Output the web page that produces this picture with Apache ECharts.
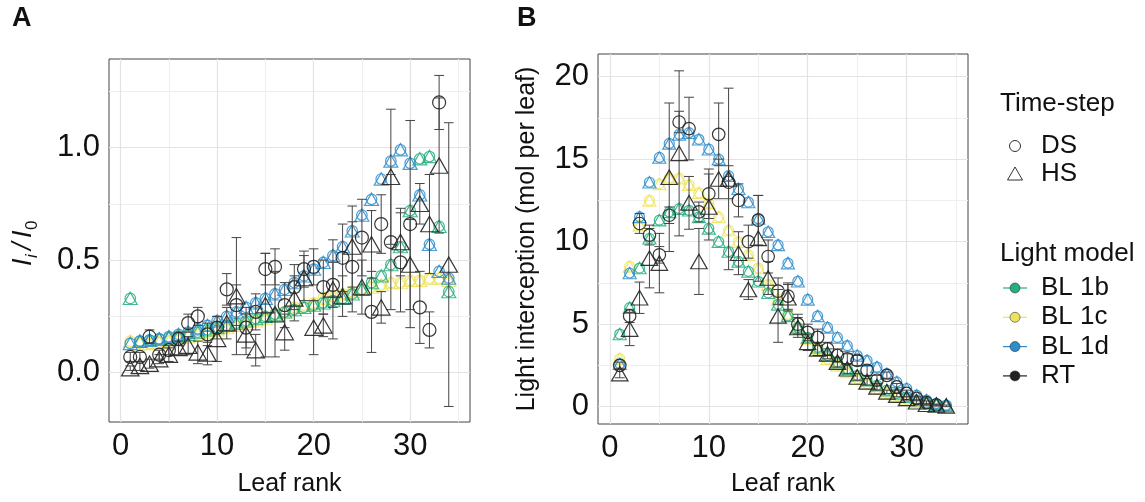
<!DOCTYPE html>
<html><head><meta charset="utf-8">
<script src="https://cdn.jsdelivr.net/npm/echarts@6/dist/echarts.min.js"></script>
<style>html,body{margin:0;padding:0;background:#fff}#c{width:1145px;height:502px}</style>
</head><body><div id="c"></div>
<script>
// ---------- data ----------
const leafRank = [1,2,3,4,5,6,7,8,9,10,11,12,13,14,15,16,17,18,19,20,21,22,23,24,25,26,27,28,29,30,31,32,33,34];
const xTicks = [0,10,20,30];
const xMinor = [5,15,25,35];
const yTicksA = [0,0.5,1.0];
const yMinorA = [0.25,0.75,1.25];
const yTicksB = [0,5,10,15,20];
const yMinorB = [2.5,7.5,12.5,17.5];

// Panel A : I_i / I_0
const a_BL1b = [0.33,0.14,0.145,0.15,0.155,0.16,0.17,0.18,0.19,0.2,0.21,0.22,0.23,0.24,0.25,0.26,0.27,0.28,0.29,0.3,0.31,0.32,0.33,0.35,0.37,0.4,0.43,0.48,0.56,0.72,0.95,0.96,0.65,0.36];
const a_BL1c = [0.14,0.13,0.13,0.135,0.14,0.15,0.16,0.17,0.18,0.19,0.2,0.21,0.22,0.23,0.24,0.26,0.27,0.29,0.3,0.31,0.33,0.34,0.35,0.36,0.37,0.38,0.39,0.4,0.4,0.41,0.41,0.42,0.42,0.41];
const a_BL1d = [0.13,0.14,0.145,0.15,0.16,0.17,0.18,0.195,0.21,0.23,0.25,0.27,0.29,0.31,0.33,0.35,0.37,0.4,0.43,0.46,0.49,0.52,0.56,0.63,0.7,0.77,0.86,0.94,0.99,0.93,0.79,0.57,0.45,0.42];
const a_RT_DS = [0.07,0.07,0.16,0.08,0.1,0.15,0.22,0.25,0.17,0.2,0.37,0.3,0.2,0.27,0.46,0.47,0.3,0.38,0.46,0.47,0.38,0.39,0.51,0.47,0.6,0.27,0.66,0.58,0.49,0.66,0.29,0.19,1.2,null];
const a_RT_DS_sd = [0.02,0.02,0.03,0.02,0.02,0.03,0.04,0.04,0.05,0.05,0.07,0.09,0.09,0.08,0.07,0.08,0.1,0.1,0.08,0.08,0.12,0.1,0.15,0.2,0.17,0.18,0.13,0.3,0.22,0.46,0.16,0.08,0.12,null];
const a_RT_HS = [0.02,0.03,0.04,0.06,0.08,0.11,0.12,0.09,0.085,0.15,0.22,0.34,0.17,0.1,0.3,0.26,0.18,0.33,0.42,0.2,0.21,0.37,0.34,0.56,0.38,0.57,0.29,0.87,0.58,0.48,0.75,0.66,0.92,0.48];
const a_RT_HS_sd = [0.01,0.02,0.02,0.02,0.03,0.03,0.04,0.05,0.05,0.1,0.07,0.26,0.09,0.07,0.23,0.19,0.08,0.1,0.1,0.12,0.05,0.22,0.09,0.18,0.12,0.15,0.07,0.3,0.15,0.2,0.09,0.22,0.3,0.63];

// Panel B : light interception (mol per leaf)
const b_BL1b = [4.4,6.0,8.4,10.2,11.3,11.8,12.0,11.9,11.5,10.8,10.0,9.4,8.8,8.2,7.6,6.9,6.2,5.5,4.8,4.2,3.6,3.1,2.7,2.3,1.9,1.6,1.3,1.0,0.8,0.6,0.4,0.25,0.12,0.05];
const b_BL1c = [2.9,8.5,11.0,12.5,13.5,13.85,13.85,13.45,12.95,12.35,11.5,10.7,10.0,9.2,8.4,7.4,6.5,5.6,4.8,4.1,3.5,2.9,2.5,2.1,1.7,1.4,1.1,0.85,0.65,0.45,0.3,0.18,0.08,0.03];
const b_BL1d = [2.6,8.1,11.5,13.6,15.1,15.95,16.5,16.6,16.2,15.6,15.0,14.0,13.2,12.4,11.4,10.6,9.8,8.7,7.6,6.5,5.5,4.8,4.2,3.7,3.1,2.8,2.4,2.0,1.5,1.1,0.7,0.4,0.2,0.1];
const b_RT_DS = [2.5,5.5,11.1,10.4,9.2,11.6,17.25,16.85,11.8,12.9,16.5,13.6,12.5,10.0,11.3,9.1,7.0,6.7,5.0,4.5,4.2,3.5,3.1,2.9,2.8,2.2,1.6,1.9,1.2,0.8,0.5,0.25,0.1,null];
const b_RT_DS_sd = [0.2,0.4,0.6,0.6,0.5,0.5,0.65,1.9,0.6,1.5,1.9,1.0,1.0,1.0,1.5,1.0,0.8,0.8,0.6,0.5,0.5,0.4,0.4,0.3,0.3,0.3,0.3,0.2,0.2,0.2,0.1,0.1,0.05,null];
const b_RT_HS = [2.0,4.7,6.6,9.0,8.7,13.9,15.35,12.35,8.8,12.1,13.8,13.8,9.3,7.1,10.2,7.8,5.5,6.6,4.8,3.9,3.5,3.2,2.7,2.3,1.8,1.5,1.2,0.9,0.7,0.5,0.3,0.15,0.1,0.05];
const b_RT_HS_sd = [0.25,1.0,0.95,1.8,1.8,4.5,5.0,1.6,2.0,2.0,1.2,5.5,1.3,0.6,2.6,1.0,1.6,0.8,0.6,0.5,0.4,0.3,0.3,0.3,0.2,0.2,0.2,0.1,0.1,0.1,0.1,0.05,0.05,0.05];

const modelNames = ['BL 1b','BL 1c','BL 1d','RT'];
const timeStepNames = ['DS','HS'];

// ---------- styling ----------
const FONT = '"Liberation Sans", Arial, sans-serif';
const COL = {'BL 1b':'#26AD81','BL 1c':'#EDE35A','BL 1d':'#2E8DCB','RT':'#222222'};
const GRID_MAJ = '#E3E3E3', GRID_MIN = '#EFEFEF';
const SIZES = [{mTri:14, mCir:10.5, rTri:17.5, rCir:13}, {mTri:13, mCir:10, rTri:16.5, rCir:12.5}];

function pts(vals){ return leafRank.map((r,i)=> vals[i]==null ? null : [r, vals[i]]).filter(Boolean); }
function bars(vals, sd){ return leafRank.map((r,i)=> vals[i]==null ? null : [r, vals[i]-sd[i], vals[i]+sd[i]]).filter(Boolean); }

function scatter(g, name, vals, symbol, size, color, z, op){
  return {type:'scatter', name, xAxisIndex:g, yAxisIndex:g, data:pts(vals), symbol,
    symbolSize: symbol==='triangle' ? [size, size*0.88] : size,
    itemStyle:{color:'rgba(0,0,0,0)', borderColor:color, borderWidth:1.2, opacity:op},
    z, silent:true, animation:false};
}
function errSeries(g, vals, sd){
  return {type:'custom', xAxisIndex:g, yAxisIndex:g, data:bars(vals, sd), z:3, silent:true, animation:false,
    encode:{x:0, y:[1,2]},
    renderItem(params, api){
      const x = api.value(0);
      const p1 = api.coord([x, api.value(1)]);
      const p2 = api.coord([x, api.value(2)]);
      const hw = api.size([0.5, 0])[0];
      const style = {stroke:'#444', lineWidth:1, fill:null};
      return {type:'group', children:[
        {type:'line', shape:{x1:p1[0], y1:p1[1], x2:p2[0], y2:p2[1]}, style},
        {type:'line', shape:{x1:p1[0]-hw, y1:p1[1], x2:p1[0]+hw, y2:p1[1]}, style},
        {type:'line', shape:{x1:p2[0]-hw, y1:p2[1], x2:p2[0]+hw, y2:p2[1]}, style}
      ]};
    }};
}
function gridLines(g, xMaj, xMin, yMaj, yMin){
  const mk = (arr, key, color, w) => arr.map(v => ({[key]: v, lineStyle:{color, width:w, type:'solid'}}));
  return {type:'scatter', xAxisIndex:g, yAxisIndex:g, data:[], silent:true, z:1, animation:false,
    markLine:{silent:true, symbol:['none','none'], z:1, animation:false, label:{show:false},
      data:[].concat(mk(xMin,'xAxis',GRID_MIN,1), mk(yMin,'yAxis',GRID_MIN,1),
                     mk(xMaj,'xAxis',GRID_MAJ,1.2), mk(yMaj,'yAxis',GRID_MAJ,1.2))}};
}

function panelSeries(g, bl1b, bl1c, bl1d, ds, dsSd, hs, hsSd){
  const s = [], S = SIZES[g];
  const models = [['BL 1c', bl1c], ['BL 1b', bl1b], ['BL 1d', bl1d]];
  models.forEach(([n, v]) => {
    s.push(scatter(g, n, v, 'triangle', S.mTri, COL[n], 2, 0.85));
    s.push(scatter(g, n, v, 'circle', S.mCir, COL[n], 2, 0.85));
  });
  s.push(errSeries(g, ds, dsSd));
  s.push(errSeries(g, hs, hsSd));
  s.push(scatter(g, 'RT', ds, 'circle', S.rCir, COL['RT'], 4, 0.9));
  s.push(scatter(g, 'RT', hs, 'triangle', S.rTri, COL['RT'], 4, 0.9));
  return s;
}

const tickLabel = {fontFamily:FONT, fontSize:31, color:'#111'};
function xAx(g, gap){
  return {type:'value', gridIndex:g, min:-1.2, max:36.2,
    axisLine:{show:false}, splitLine:{show:false},
    axisTick:{show:true, length:5, customValues:xTicks, lineStyle:{color:'#333'}},
    axisLabel:Object.assign({customValues:xTicks, margin:9}, tickLabel),
    name:'Leaf rank', nameLocation:'middle', nameGap:gap,
    nameTextStyle:{fontFamily:FONT, fontSize:25, color:'#111'}};
}

const option = {
  backgroundColor:'#fff',
  animation:false,
  grid:[
    {left:109, top:59, width:361, height:363, show:true, borderColor:'#444', borderWidth:1, backgroundColor:'#fff', containLabel:false},
    {left:598, top:54, width:370, height:373, show:true, borderColor:'#444', borderWidth:1, backgroundColor:'#fff', containLabel:false}
  ],
  xAxis:[xAx(0, 50), xAx(1, 48)],
  yAxis:[
    {type:'value', gridIndex:0, min:-0.219, max:1.393,
      axisLine:{show:false}, splitLine:{show:false},
      axisTick:{show:true, length:5, customValues:yTicksA, lineStyle:{color:'#333'}},
      axisLabel:Object.assign({customValues:yTicksA, margin:9, formatter:v=>v.toFixed(1)}, tickLabel)},
    {type:'value', gridIndex:1, min:-1.05, max:21.37,
      axisLine:{show:false}, splitLine:{show:false},
      axisTick:{show:true, length:5, customValues:yTicksB, lineStyle:{color:'#333'}},
      axisLabel:Object.assign({customValues:yTicksB, margin:9}, tickLabel),
      name:'Light interception (mol per leaf)', nameLocation:'middle', nameGap:58,
      nameTextStyle:{fontFamily:FONT, fontSize:25, color:'#111'}}
  ],
  series:[].concat(
    gridLines(0, xTicks, xMinor, yTicksA, yMinorA),
    gridLines(1, xTicks, xMinor, yTicksB, yMinorB),
    panelSeries(0, a_BL1b, a_BL1c, a_BL1d, a_RT_DS, a_RT_DS_sd, a_RT_HS, a_RT_HS_sd),
    panelSeries(1, b_BL1b, b_BL1c, b_BL1d, b_RT_DS, b_RT_DS_sd, b_RT_HS, b_RT_HS_sd)
  ),
  graphic:[]
};

// panel letters
option.graphic.push({type:'text', left:12, top:5, style:{text:'A', font:'bold 27px '+FONT, fill:'#111'}});
option.graphic.push({type:'text', left:517, top:5, style:{text:'B', font:'bold 27px '+FONT, fill:'#111'}});

// y title of panel A : I_i / I_0 (rotated)
option.graphic.push({type:'group', x:37, y:266, rotation:Math.PI/2, children:[
  {type:'text', x:0, y:0, style:{text:'I', font:'italic 27px '+FONT, fill:'#111', textVerticalAlign:'bottom'}},
  {type:'text', x:8, y:4, style:{text:'i', font:'italic 17px '+FONT, fill:'#111', textVerticalAlign:'bottom'}},
  {type:'text', x:16, y:0, style:{text:'/', font:'italic 27px '+FONT, fill:'#111', textVerticalAlign:'bottom'}},
  {type:'text', x:28, y:0, style:{text:'I', font:'italic 27px '+FONT, fill:'#111', textVerticalAlign:'bottom'}},
  {type:'text', x:36, y:4, style:{text:'0', font:'17px '+FONT, fill:'#111', textVerticalAlign:'bottom'}}
]});

// legend
const LX = 1000, SX = 1015, TX = 1041;
option.graphic.push({type:'text', x:LX, y:104, style:{text:'Time-step', font:'26px '+FONT, fill:'#111', textVerticalAlign:'middle'}});
option.graphic.push({type:'circle', shape:{cx:SX, cy:146, r:5.5}, style:{fill:null, stroke:'#333', lineWidth:1}});
option.graphic.push({type:'text', x:TX, y:146, style:{text:timeStepNames[0], font:'26px '+FONT, fill:'#111', textVerticalAlign:'middle'}});
option.graphic.push({type:'polygon', shape:{points:[[SX,167],[SX-7.5,180],[SX+7.5,180]]}, style:{fill:null, stroke:'#333', lineWidth:1}});
option.graphic.push({type:'text', x:TX, y:174, style:{text:timeStepNames[1], font:'26px '+FONT, fill:'#111', textVerticalAlign:'middle'}});
option.graphic.push({type:'text', x:LX, y:254, style:{text:'Light model', font:'26px '+FONT, fill:'#111', textVerticalAlign:'middle'}});
modelNames.forEach((n, i) => {
  const y = 288 + i*29.3;
  option.graphic.push({type:'line', shape:{x1:SX-12, y1:y, x2:SX+12, y2:y}, style:{stroke:COL[n], lineWidth:1.2}});
  option.graphic.push({type:'circle', shape:{cx:SX, cy:y, r:5}, style:{fill:COL[n], stroke:'#333', lineWidth:0.6}});
  option.graphic.push({type:'text', x:TX, y:y, style:{text:n, font:'26px '+FONT, fill:'#111', textVerticalAlign:'middle'}});
});

const chart = echarts.init(document.getElementById('c'), null, {renderer:'canvas'});
chart.setOption(option);
</script></body></html>
